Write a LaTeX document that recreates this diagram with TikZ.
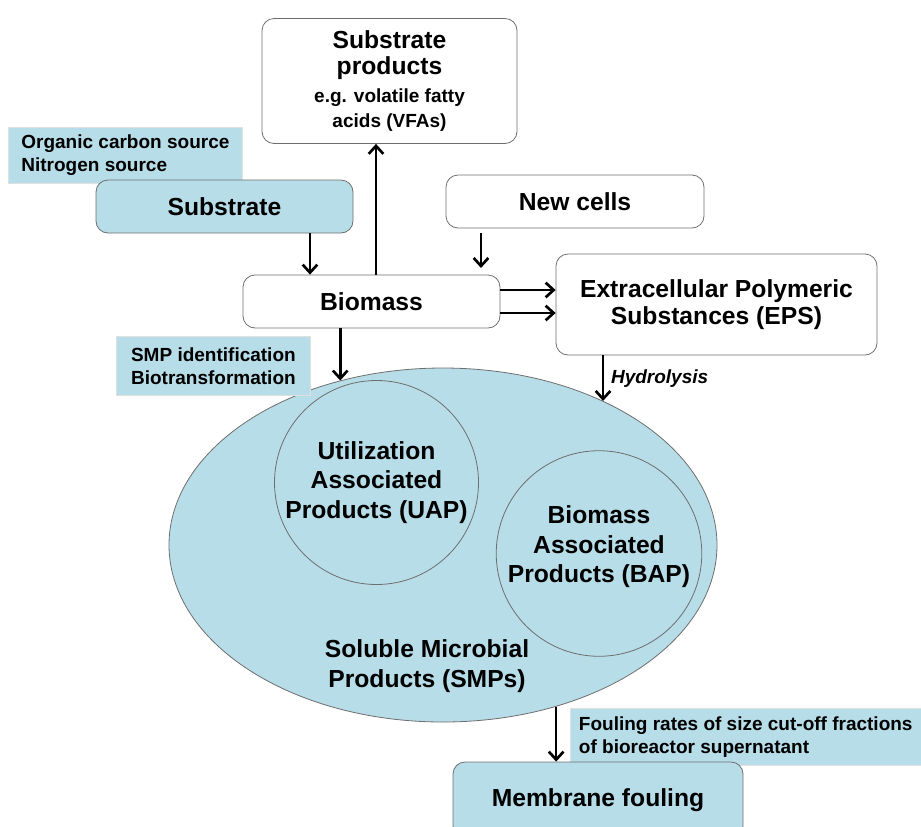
\documentclass[tikz,border=0pt]{standalone}
\usepackage{fontspec}
\setmainfont{Liberation Sans}
\usepackage{xcolor}
\usepackage{tikz}
\usetikzlibrary{arrows.meta,shapes.geometric}

\definecolor{paleblue}{HTML}{B7DDE8}
\definecolor{edgegray}{HTML}{6E6E6E}
\newcommand\bigtxt{\bfseries\fontsize{18.5}{22}\selectfont}
\newcommand\smalltxt{\bfseries\fontsize{14.25}{17.5}\selectfont}

\begin{document}
\begin{tikzpicture}[x=.75pt, y=-.75pt, line width=.6,
    box/.style={draw=edgegray, rounded corners=9pt, align=center, font=\bigtxt, inner sep=0pt},
    note/.style={fill=paleblue, draw=black!12, align=left, font=\smalltxt, anchor=north west, inner sep=0pt},
    blob/.style={draw=edgegray, fill=paleblue, inner sep=0pt},
    arr/.style={-{Straight Barb[length=6pt,width=11pt]}, line width=2pt}]
    \useasboundingbox (0,0) rectangle (921,826);
    \clip (0,0) rectangle (921,826);
    % top row
    \node[box, minimum width=191.25pt, minimum height=93.75pt] (subprod) at (389.5,81)
        {Substrate\\[-2pt]products\\[-1pt]{\smalltxt e.g. volatile fatty}\\[-3.25pt]{\smalltxt acids (VFAs)}};
    \node[note, minimum width=175.5pt, minimum height=42pt] (orgnote) at (8,127)
        {Organic carbon source\\Nitrogen source};
    \node[box, fill=paleblue, minimum width=192.75pt, minimum height=39.75pt] (substrate) at (224.5,206.5) {Substrate};
    \node[box, minimum width=193.5pt, minimum height=39.75pt] (newcells) at (575,201.5) {New cells};
    \node[box, minimum width=192.75pt, minimum height=39.75pt] (biomass) at (371.5,301.5) {Biomass};
    \node[box, minimum width=240.75pt, minimum height=75.75pt] (eps) at (716.5,304.5)
        {Extracellular Polymeric\\[-2pt]Substances (EPS)};
    % soluble products
    \node[blob, ellipse, minimum width=411pt, minimum height=265.5pt] (smp) at (443,545) {};
    \node[note, minimum width=145.5pt, minimum height=44.25pt] (smpnote) at (116,336)
        {SMP identification\\Biotransformation};
    \node[blob, fill=none, circle, minimum size=153pt, align=center, font=\bigtxt] (uap) at (376.5,482.5)
        {Utilization\\Associated\\Products (UAP)};
    \node[blob, fill=none, circle, minimum size=153pt, align=center, font=\bigtxt] (bap) at (599,553.5)
        {Biomass\\Associated\\Products (BAP)\\[-8pt]};
    \node[align=center, font=\bigtxt] (smptext) at (427,666) {Soluble Microbial\\Products (SMPs)};
    % fouling
    \node[note, minimum width=263pt, minimum height=42.75pt] (foulnote) at (570,708)
        {Fouling rates of size cut-off fractions\\of bioreactor supernatant};
    \node[box, fill=paleblue, minimum width=217.5pt, minimum height=57pt] (membrane) at (598,800) {Membrane fouling};
    % arrows
    \draw[arr] (substrate.south -| 310,0) -- (biomass.north -| 310,0);
    \draw[arr] (biomass.north -| 376,0) -- (subprod.south -| 376,0);
    \draw[arr, shorten <=3.75pt, shorten >=5pt] (newcells.south -| 481,0) -- (biomass.north -| 481,0);
    \draw[arr] (biomass.east |- 0,290) -- (eps.west |- 0,290);
    \draw[arr] (biomass.east |- 0,313) -- (eps.west |- 0,313);
    \draw[arr] (biomass.south -| smp.122.3) -- (smp.122.3);
    \draw[arr] (eps.south -| smp.42.7) -- (smp.42.7)
        node[midway, right, inner xsep=5pt, font=\smalltxt\itshape] {Hydrolysis};
    \draw[arr] (smp.-55.2) -- (membrane.north -| smp.-55.2);
\end{tikzpicture}
\end{document}
